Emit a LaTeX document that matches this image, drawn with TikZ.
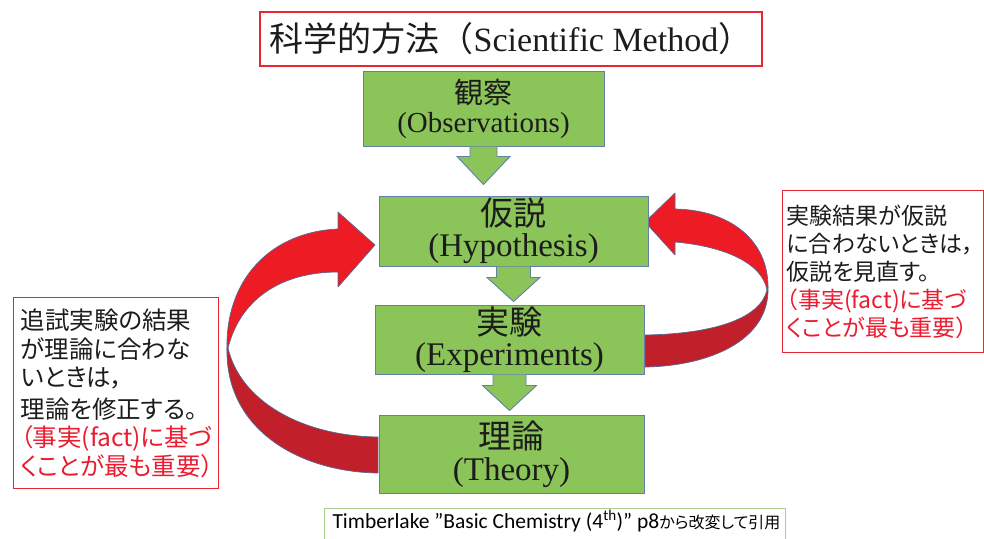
\documentclass[tikz,border=0pt]{standalone}
\usepackage{fontspec}
\setmainfont{Liberation Serif}
\newfontfamily\jpfont{Noto Sans CJK JP}
\newfontfamily\jpprop[RawFeature={+palt}]{Noto Sans CJK JP}
\newfontfamily\notefont{Carlito}
\usetikzlibrary{calc}

\definecolor{boxgreen}{RGB}{139,196,88}
\definecolor{stageedge}{RGB}{98,128,168}
\definecolor{framered}{RGB}{232,38,46}
\definecolor{loopred}{RGB}{237,28,36}
\definecolor{loopdark}{RGB}{193,32,42}
\definecolor{loopedge}{RGB}{84,104,146}
\definecolor{notered}{RGB}{233,28,48}
\definecolor{ink}{RGB}{28,28,28}
\definecolor{notegreen}{RGB}{169,209,142}

\tikzset{
  stagebox/.style={draw=stageedge, fill=boxgreen, line width=1pt, inner sep=0pt,
    align=center, text=ink},
  redframe/.style={draw=framered, line width=1.3pt, text=ink},
  flowarrow/.style={draw=stageedge, fill=boxgreen, line width=0.9pt},
  loopfront/.style={fill=loopred, draw=loopedge, line width=0.7pt, line join=round},
  loopback/.style={fill=loopdark, draw=loopedge, line width=0.7pt, line join=round},
}

% block arrow between two stages:
% #1 source, #2 target, #3 stem half width, #4 head half width, #5 stem length, #6 gap above target
\newcommand\stagestep[6]{%
  \path[flowarrow] let \p1=(#1.south), \p2=(#2.north) in
    (\x1-#3pt,\y1) -- (\x1-#3pt,\y1-#5pt) -- (\x1-#4pt,\y1-#5pt) -- (\x1,\y2+#6pt)
    -- (\x1+#4pt,\y1-#5pt) -- (\x1+#3pt,\y1-#5pt) -- (\x1+#3pt,\y1);}

\begin{document}
\begin{tikzpicture}[x=1pt,y=-1pt]
\path[use as bounding box] (0,0) rectangle (984,538);

% left loop: theory back up to hypothesis
\path[loopback] (227,348) .. controls (225,430) and (300,472) .. (378,473)
  -- (378,437) .. controls (300,436) and (240,400) .. (228,348) -- cycle;
\path[loopfront] (227,350) .. controls (225,280) and (270,232) .. (338,229)
  -- (338,212) -- (375,245) -- (338,287) -- (338,272)
  .. controls (280,272) and (240,300) .. (228,348) -- cycle;

% right loop: experiments back up to hypothesis
\path[loopback] (768,287) .. controls (770,340) and (710,366) .. (645,367)
  -- (645,335) .. controls (710,334) and (760,320) .. (767,290) -- cycle;
\path[loopfront] (768,287) .. controls (768,240) and (730,210) .. (675,209)
  -- (675,193) -- (645,222) -- (675,255) -- (675,242)
  .. controls (722,246) and (762,262) .. (767,290) -- cycle;

% title
\node[redframe, minimum width=502pt, minimum height=54pt, inner sep=0pt,
  font=\fontsize{34}{34}\selectfont] (title) at (511,39)
  {{\jpfont 科学的方法（}Scientific Method{\jpfont ）}};

% stages
\node[stagebox, minimum width=241pt, minimum height=75pt,
  font=\fontsize{29}{29}\selectfont] (obs) at (483.5,108.5)
  {{\jpfont 観察}\\(Observations)};
\node[stagebox, minimum width=269pt, minimum height=70pt,
  font=\fontsize{33}{31}\selectfont] (hyp) at (513.5,231)
  {{\jpfont 仮説}\\(Hypothesis)};
\node[stagebox, minimum width=269pt, minimum height=69pt,
  font=\fontsize{33}{31}\selectfont] (exp) at (509.5,339.5)
  {{\jpfont 実験}\\(Experiments)};
\node[stagebox, minimum width=265pt, minimum height=78pt,
  font=\fontsize{33}{32}\selectfont] (thy) at (511.5,454)
  {{\jpfont 理論}\\(Theory)};

\stagestep{obs}{hyp}{13.5}{26.5}{10}{11}
\stagestep{hyp}{exp}{17}{26.5}{11}{3}
\stagestep{exp}{thy}{16.5}{27}{11}{4}

% side notes
\node[redframe, anchor=north west, minimum width=201pt, minimum height=162pt,
  text width=193pt, inner xsep=4pt, inner ysep=0pt, align=left,
  font=\jpprop\fontsize{23}{28}\selectfont] (rnote) at (782,190)
  {実験結果が仮説\\に合わないときは，\\仮説を見直す。\\
   \textcolor{notered}{（事実(fact)に基づ}\\\textcolor{notered}{くことが最も重要）}};

\node[redframe, anchor=north west, minimum width=205pt, minimum height=191pt,
  text width=191pt, inner xsep=7pt, inner ysep=0pt, align=left,
  font=\jpprop\fontsize{24.5}{28.5}\selectfont] (lnote) at (13,297)
  {追試実験の結果\\が理論に合わな\\いときは，\\[3pt]理論を修正する。\\
   \textcolor{notered}{（事実(fact)に基づ}\\\textcolor{notered}{くことが最も重要）}};

% source line
\begin{scope}
\clip (0,0) rectangle (984,538);
\node[draw=notegreen, line width=1pt, anchor=north west,
  inner xsep=8pt, inner ysep=5pt, text height=15pt, text depth=22pt,
  font=\notefont\fontsize{21.5}{24}\selectfont] (src) at (324,508)
  {\makebox[445pt][l]{Timberlake ”Basic Chemistry (4\textsuperscript{th})” p8{\jpprop\fontsize{16}{24}\selectfont から改変して引用}}};
\end{scope}
\end{tikzpicture}
\end{document}
